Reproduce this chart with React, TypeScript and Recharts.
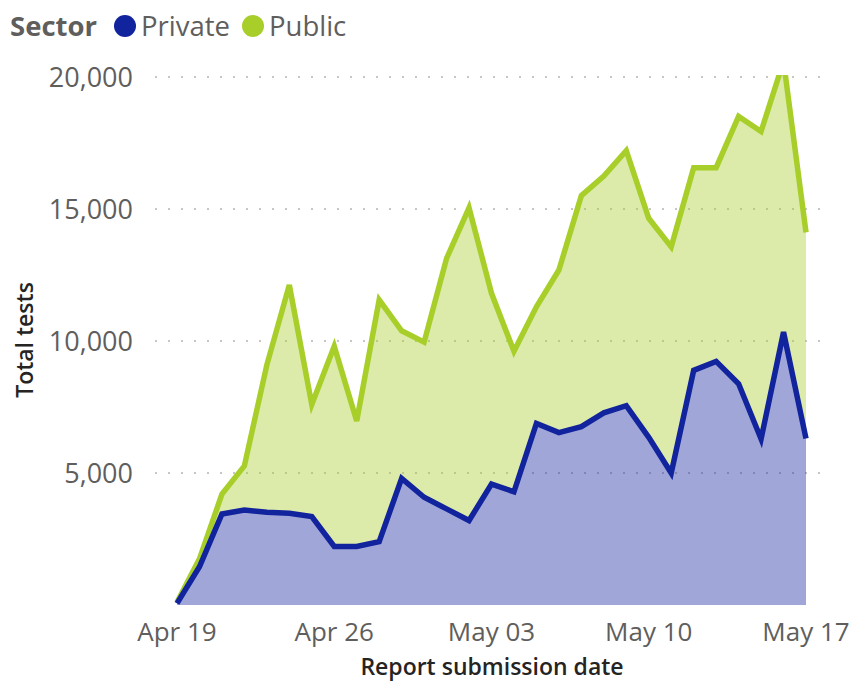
import React from "react"
import { ComposedChart, Area, Line, XAxis, YAxis, CartesianGrid } from "recharts"

const dates = [
  "Apr 19", "Apr 20", "Apr 21", "Apr 22", "Apr 23", "Apr 24", "Apr 25",
  "Apr 26", "Apr 27", "Apr 28", "Apr 29", "Apr 30", "May 01", "May 02",
  "May 03", "May 04", "May 05", "May 06", "May 07", "May 08", "May 09",
  "May 10", "May 11", "May 12", "May 13", "May 14", "May 15", "May 16",
  "May 17",
]

const privateTests = [
  60, 1450, 3450, 3600, 3510, 3475, 3350, 2220, 2220, 2400, 4800, 4080, 3640,
  3200, 4580, 4290, 6880, 6530, 6760, 7280, 7550, 6350, 5000, 8890, 9230, 8380,
  6290, 10340, 6310,
]

const publicTests = [
  40, 300, 750, 1670, 5590, 8645, 4250, 7580, 4750, 9160, 5590, 5880, 9490,
  11850, 7230, 5320, 4420, 6160, 8750, 8970, 9660, 8300, 8570, 7680, 7340,
  10130, 11650, 10260, 7810,
]

const yTicks = [5000, 10000, 15000, 20000]

const BLUE = "#12239E"
const GREEN = "#A8CE2A"
const FONT = "'Open Sans', 'Noto Sans', sans-serif"

// areas are stacked; the outlines are drawn afterwards as lines so the
// green fill doesn't wash over the blue stroke
const data = dates.map((d, i) => ({
  date: d,
  Private: privateTests[i],
  Public: publicTests[i],
  total: privateTests[i] + publicTests[i],
}))

function LegendDot({ color }: { color: string }) {
  return (
    <span
      style={{
        display: "inline-block",
        width: 22,
        height: 22,
        borderRadius: "50%",
        background: color,
        marginRight: 5,
      }}
    />
  )
}

export default function App() {
  return (
    <div
      style={{
        position: "absolute",
        left: 0,
        top: 0,
        width: 852,
        height: 682,
        background: "#fff",
        fontFamily: FONT,
      }}
    >
      <div
        style={{
          position: "absolute",
          left: 10,
          top: 7,
          display: "flex",
          alignItems: "center",
          fontSize: 27.5,
          color: "#605E5C",
          whiteSpace: "nowrap",
        }}
      >
        <span style={{ fontWeight: 700, marginRight: 17 }}>Sector</span>
        <LegendDot color={BLUE} />
        <span style={{ marginRight: 12 }}>Private</span>
        <LegendDot color={GREEN} />
        <span>Public</span>
      </div>

      <ComposedChart
        width={852}
        height={682}
        data={data}
        margin={{ top: 75, right: 29, bottom: 0, left: 0 }}
      >
        <CartesianGrid
          vertical={false}
          horizontalValues={yTicks}
          stroke="#C8C6C4"
          strokeWidth={2}
          strokeDasharray="2 11"
        />
        <XAxis
          dataKey="date"
          height={77}
          interval={6}
          padding={{ left: 22, right: 17 }}
          axisLine={false}
          tickLine={false}
          tickSize={0}
          tickMargin={18}
          tick={{ fontSize: 26, fill: "#605E5C", fontFamily: FONT }}
        />
        <YAxis
          width={155}
          domain={[0, 20080]}
          allowDataOverflow
          ticks={yTicks}
          axisLine={false}
          tickLine={false}
          tickSize={0}
          tickMargin={22}
          tickFormatter={(v: number) => v.toLocaleString("en-US")}
          tick={{ fontSize: 27, fill: "#605E5C", fontFamily: FONT }}
        />
        <Area
          type="linear"
          dataKey="Private"
          stackId="1"
          stroke="none"
          fill={BLUE}
          fillOpacity={0.4}
          isAnimationActive={false}
          dot={false}
          activeDot={false}
        />
        <Area
          type="linear"
          dataKey="Public"
          stackId="1"
          stroke="none"
          fill={GREEN}
          fillOpacity={0.4}
          isAnimationActive={false}
          dot={false}
          activeDot={false}
        />
        <Line
          type="linear"
          dataKey="total"
          stroke={GREEN}
          strokeWidth={5.5}
          dot={false}
          activeDot={false}
          isAnimationActive={false}
        />
        <Line
          type="linear"
          dataKey="Private"
          stroke={BLUE}
          strokeWidth={5.5}
          dot={false}
          activeDot={false}
          isAnimationActive={false}
        />
      </ComposedChart>

      <div
        style={{
          position: "absolute",
          left: 24,
          top: 340,
          transform: "translate(-50%, -50%) rotate(-90deg)",
          fontSize: 23,
          fontWeight: 600,
          color: "#252423",
          whiteSpace: "nowrap",
        }}
      >
        Total tests
      </div>
      <div
        style={{
          position: "absolute",
          left: 492,
          top: 666,
          transform: "translate(-50%, -50%)",
          fontSize: 23,
          fontWeight: 600,
          color: "#252423",
          whiteSpace: "nowrap",
        }}
      >
        Report submission date
      </div>
    </div>
  )
}
